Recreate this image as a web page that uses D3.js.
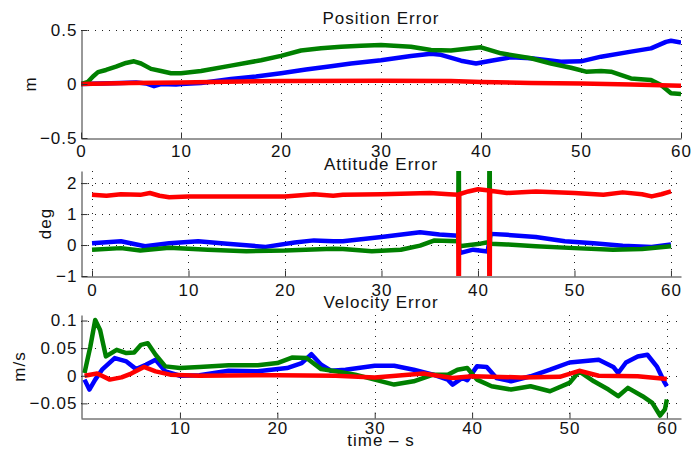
<!DOCTYPE html>
<html>
<head>
<meta charset="utf-8">
<script src="https://cdn.jsdelivr.net/npm/d3@7"></script>
<style>
  body { margin: 0; background: #fff; }
  svg text { font-family: "Liberation Sans", Arial, sans-serif; font-size: 17px; letter-spacing: 1px; fill: #111; }
</style>
</head>
<body>
<svg id="chart" width="692" height="453"></svg>
<script>
// ---- data: [time s, value] ----
const posBlue = [[0,0],[2,0.005],[4,0.01],[5.5,0.015],[6.5,0.005],[7.3,-0.02],[8,0],[9.5,-0.005],[10,0],[12,0.01],[15,0.046],[17.5,0.07],[20,0.1],[22.5,0.135],[25,0.165],[27,0.19],[30,0.22],[33,0.26],[35,0.28],[36,0.27],[38,0.216],[39.5,0.19],[41,0.216],[43,0.247],[45,0.238],[48,0.207],[50,0.21],[52,0.253],[55,0.3],[57,0.33],[58.5,0.39],[59,0.4],[60,0.385]];
const posGreen = [[0,0],[0.7,0.02],[1.2,0.07],[1.7,0.11],[2.5,0.13],[3.5,0.16],[4.5,0.195],[5.3,0.21],[6,0.19],[7,0.14],[8,0.12],[9,0.1],[10,0.1],[12,0.12],[15,0.17],[18,0.22],[20,0.26],[22,0.31],[24,0.33],[26,0.345],[28,0.355],[30,0.36],[33,0.345],[35,0.315],[37,0.31],[39,0.33],[40,0.34],[42,0.284],[45,0.238],[47,0.19],[49,0.15],[50.5,0.114],[52,0.12],[53,0.114],[55,0.052],[57,0.037],[58,-0.01],[59,-0.086],[60,-0.093]];
const posRed = [[0,0],[5,0.01],[10,0.015],[20,0.028],[30,0.03],[37,0.027],[40,0.018],[45,0.01],[50,0.004],[55,-0.004],[60,-0.016]];

const attBlue = [[0,0.06],[3,0.12],[5.5,-0.04],[8,0.06],[11,0.12],[14,0.04],[18,-0.06],[21,0.08],[23,0.15],[25,0.12],[26,0.12],[30,0.26],[34,0.41],[36,0.34],[37.95,0.3],[38.1,-0.26],[39.5,-0.15],[41,-0.21],[41.3,0.36],[43,0.33],[46,0.26],[49,0.12],[52,0.06],[55,-0.02],[58,-0.06],[60,0.02]];
const attGreen = [[0,-0.15],[3,-0.1],[5,-0.18],[8,-0.09],[12,-0.15],[16,-0.2],[20,-0.18],[25,-0.12],[26,-0.13],[29,-0.2],[32,-0.15],[34,-0.02],[35.5,0.15],[37.95,0.12],[38.0,4],[38.05,-0.04],[40,0.03],[41.15,0.1],[41.2,4],[41.25,0.04],[43,0.02],[46,-0.04],[50,-0.1],[54,-0.15],[57,-0.13],[60,-0.04]];
const attRed = [[0,1.62],[1.5,1.59],[3,1.64],[5,1.62],[6,1.68],[7,1.59],[8,1.54],[10,1.57],[15,1.57],[20,1.57],[23,1.64],[25,1.59],[26,1.62],[30,1.64],[35,1.68],[37,1.64],[37.95,1.62],[38.0,-4],[38.05,1.64],[39,1.73],[40,1.8],[41.15,1.76],[41.2,-4],[41.25,1.75],[43,1.68],[46,1.73],[50,1.68],[53,1.62],[55,1.7],[57,1.64],[58,1.57],[59,1.64],[60,1.73]];

const velBlue = [[0.2,-0.007],[0.7,-0.025],[1.3,-0.007],[2,0.011],[3.3,0.032],[4.5,0.026],[5.5,0.012],[6.5,0.02],[7.5,0.029],[8.5,0.008],[10,0],[12,0.001],[15,0.009],[18,0.008],[21,0.014],[22.5,0.023],[23.5,0.039],[24.5,0.02],[25.5,0.009],[27,0.011],[30,0.018],[32,0.018],[34,0.011],[36,0.002],[37.5,-0.007],[38,-0.016],[39,-0.004],[39.5,-0.008],[40.5,0.017],[41.5,0.016],[42.5,-0.004],[44,-0.01],[46,-0.001],[48,0.011],[50,0.024],[53,0.029],[54.5,0.016],[55,0.005],[55.8,0.024],[57,0.035],[58,0.038],[59,0.016],[59.7,-0.01],[60,-0.019]];
const velGreen = [[0.2,0.005],[0.8,0.053],[1.3,0.101],[1.8,0.083],[2.4,0.035],[3.5,0.047],[4.5,0.041],[5.3,0.042],[6,0.056],[6.7,0.059],[7.5,0.038],[8.5,0.017],[10,0.014],[12,0.016],[15,0.019],[18,0.019],[20,0.023],[21.5,0.033],[23,0.032],[24.5,0.012],[26,0.008],[28,0.002],[30,-0.007],[32,-0.016],[34,-0.01],[36,0.002],[37.5,0.002],[38.5,0.011],[39.5,0.014],[40.5,-0.007],[42,-0.019],[44,-0.025],[46,-0.019],[48,-0.028],[50,-0.013],[51,0.008],[52.5,-0.01],[54,-0.025],[55,-0.037],[56,-0.022],[57.5,-0.037],[58.5,-0.049],[59.3,-0.072],[59.8,-0.061],[60,-0.043]];
const velRed = [[0.2,0],[1.5,0.004],[2.8,-0.007],[4,-0.003],[5,0.004],[6.3,0.016],[7.5,0.008],[9,0.002],[12,0],[20,0.001],[26,0],[30,-0.003],[35,0.004],[38,-0.004],[40,-0.001],[45,-0.003],[49,-0.002],[51,0.009],[53,0],[57,-0.001],[60,-0.006]];

const posYTicks = [-0.5, 0, 0.5];
const attYTicks = [-1, 0, 1, 2];
const velYTicks = [-0.05, 0, 0.05, 0.1];
const posXTicks = [0, 10, 20, 30, 40, 50, 60];
const attXTicks = [0, 10, 20, 30, 40, 50, 60];
const velXTicks = [10, 20, 30, 40, 50, 60];

const colors = { blue: "#0000ff", green: "#008000", red: "#ff0000" };

const svg = d3.select("#chart");
const fmt = d => d3.format("")(d).replace("-", "\u2212");

function panel(o) {
  const x = d3.scaleLinear().domain(o.xDomain).range([o.left, o.right]);
  const y = d3.scaleLinear().domain(o.yDomain).range([o.bottom, o.top]);
  const g = svg.append("g");

  const clipId = "clip" + o.id;
  svg.append("clipPath").attr("id", clipId)
    .append("rect")
    .attr("x", o.left).attr("y", o.top)
    .attr("width", o.right - o.left).attr("height", o.bottom - o.top);

  // dotted grid
  const grid = g.append("g").attr("stroke", "#222").attr("stroke-width", 1)
    .attr("stroke-dasharray", "1,6");
  grid.selectAll(".gx").data(o.xGrid).enter().append("line")
    .attr("x1", d => Math.round(x(d)) + 0.5).attr("x2", d => Math.round(x(d)) + 0.5)
    .attr("y1", o.top).attr("y2", o.bottom);
  grid.selectAll(".gy").data(o.yGrid).enter().append("line")
    .attr("y1", d => Math.round(y(d)) + 0.5).attr("y2", d => Math.round(y(d)) + 0.5)
    .attr("x1", o.left).attr("x2", o.right);

  // data
  const line = d3.line().x(d => x(d[0])).y(d => y(d[1]));
  const lines = g.append("g").attr("clip-path", `url(#${clipId})`);
  o.series.forEach(s => {
    lines.append("path").datum(s.data)
      .attr("d", line)
      .attr("fill", "none")
      .attr("stroke", colors[s.color])
      .attr("stroke-width", 4.5)
      .attr("stroke-linejoin", "round");
  });

  // axes
  const xAxis = d3.axisBottom(x).tickValues(o.xTicks).tickSizeInner(-6).tickSizeOuter(0)
    .tickPadding(o.xPad).tickFormat(fmt);
  const yAxis = d3.axisLeft(y).tickValues(o.yTicks).tickSizeInner(-6).tickSizeOuter(0)
    .tickPadding(4).tickFormat(fmt);
  const ax = g.append("g").attr("transform", `translate(0,${Math.round(o.bottom) + 0.5})`).call(xAxis);
  const ay = g.append("g").attr("transform", `translate(${o.left + 0.5},0)`).call(yAxis);
  [ax, ay].forEach(a => {
    a.select(".domain").attr("stroke", "#333");
    a.selectAll(".tick line").attr("stroke", "#333");
    a.selectAll("text").attr("font-family", null).attr("font-size", null).attr("fill", "#111");
  });
  ax.attr("font-size", null).attr("font-family", null);
  ay.attr("font-size", null).attr("font-family", null);

  g.append("text").attr("x", (o.left + o.right) / 2).attr("y", o.titleY)
    .attr("text-anchor", "middle").text(o.title);
  g.append("text").attr("transform", `translate(${o.ylabelX},${(o.top + o.bottom) / 2}) rotate(-90)`)
    .attr("text-anchor", "middle").attr("dy", "0.35em").text(o.ylabel);
}

panel({
  id: 1, left: 81, right: 681, top: 30, bottom: 138,
  xDomain: [0, 60], yDomain: [-0.5, 0.5],
  xTicks: posXTicks, yTicks: posYTicks, xGrid: [10, 20, 30, 40, 50, 60], yGrid: [0, 0.5],
  xPad: 6, title: "Position Error", titleY: 24, ylabel: "m", ylabelX: 30,
  series: [{ data: posBlue, color: "blue" }, { data: posGreen, color: "green" }, { data: posRed, color: "red" }]
});

panel({
  id: 2, left: 81, right: 681, top: 171, bottom: 276,
  xDomain: [-1.14, 61.04], yDomain: [-1, 2.39],
  xTicks: attXTicks, yTicks: attYTicks, xGrid: attXTicks, yGrid: [0, 1, 2],
  xPad: 7, title: "Attitude Error", titleY: 170, ylabel: "deg", ylabelX: 45,
  series: [{ data: attBlue, color: "blue" }, { data: attGreen, color: "green" }, { data: attRed, color: "red" }]
});

panel({
  id: 3, left: 81, right: 681, top: 315, bottom: 418,
  xDomain: [-0.16, 61.45], yDomain: [-0.0765, 0.11],
  xTicks: velXTicks, yTicks: velYTicks, xGrid: velXTicks, yGrid: [-0.05, 0, 0.05, 0.1],
  xPad: 3, title: "Velocity Error", titleY: 308, ylabel: "m/s", ylabelX: 19,
  series: [{ data: velBlue, color: "blue" }, { data: velGreen, color: "green" }, { data: velRed, color: "red" }]
});

svg.append("text").attr("x", 381).attr("y", 446).attr("text-anchor", "middle").text("time \u2013 s");
</script>
</body>
</html>
